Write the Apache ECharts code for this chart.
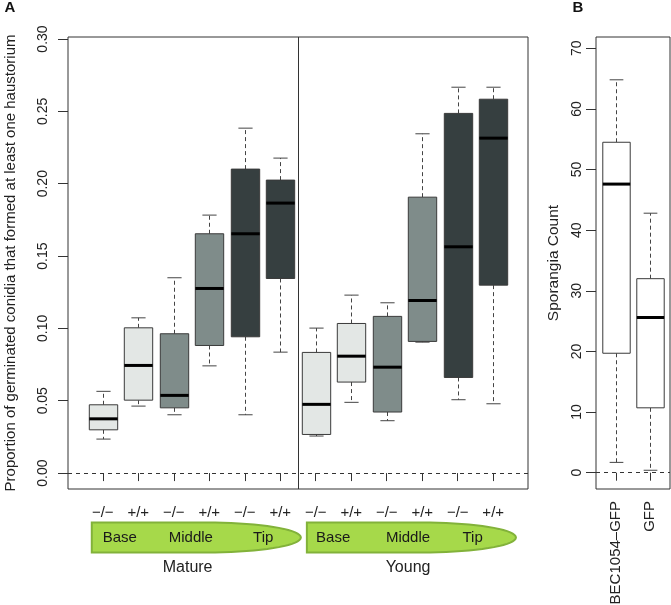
<!DOCTYPE html>
<html>
<head>
<meta charset="utf-8">
<script src="https://cdn.jsdelivr.net/npm/echarts@6/dist/echarts.min.js"></script>
<style>
  html, body { margin: 0; padding: 0; background: #fff; }
  #chart { width: 671px; height: 605px; }
</style>
</head>
<body>
<div id="chart"></div>
<script>
// panel A: one box per genotype, leaf region and leaf age
const genotypes = ['−/−', '+/+', '−/−', '+/+', '−/−', '+/+', '−/−', '+/+', '−/−', '+/+', '−/−', '+/+'];
const regions = ['Base', 'Base', 'Middle', 'Middle', 'Tip', 'Tip', 'Base', 'Base', 'Middle', 'Middle', 'Tip', 'Tip'];
const ages = ['Mature', 'Young'];
const lowerA = [0.0235, 0.0463, 0.0403, 0.0741, 0.0403, 0.0836, 0.0256, 0.0489, 0.0362, 0.0905, 0.0507, 0.0479];
const q1A = [0.0299, 0.0504, 0.0451, 0.0882, 0.0942, 0.1345, 0.0267, 0.0629, 0.0422, 0.0910, 0.0661, 0.1299];
const medianA = [0.0375, 0.0744, 0.0537, 0.1276, 0.1654, 0.1866, 0.0475, 0.0808, 0.0732, 0.1193, 0.1564, 0.2315];
const q3A = [0.0472, 0.1004, 0.0963, 0.1654, 0.2101, 0.2025, 0.0834, 0.1034, 0.1083, 0.1907, 0.2486, 0.2584];
const upperA = [0.0565, 0.1073, 0.1350, 0.1783, 0.2384, 0.2177, 0.1002, 0.1230, 0.1177, 0.2345, 0.2667, 0.2667];
const ticksA = [0, 0.05, 0.10, 0.15, 0.20, 0.25, 0.30];

// panel B: sporangia counts
const strains = ['BEC1054–GFP', 'GFP'];
const lowerB = [1.7, 0.4];
const q1B = [19.7, 10.7];
const medianB = [47.6, 25.6];
const q3B = [54.5, 32.0];
const upperB = [64.8, 42.8];
const ticksB = [0, 10, 20, 30, 40, 50, 60, 70];

const regionFill = { Base: '#e3e7e5', Middle: '#7f8c8a', Tip: '#363f40' };
const font = 'Liberation Sans, Arial, sans-serif';
const ink = '#333';

const posA = genotypes.map((g, i) => i + 1);
const posB = strains.map((s, i) => i + 1);
const dataA = posA.map((p, i) => [p, lowerA[i], q1A[i], medianA[i], q3A[i], upperA[i]]);
const dataB = posB.map((p, i) => [p, lowerB[i], q1B[i], medianB[i], q3B[i], upperB[i]]);

// R-style box: dashed whiskers, short staples, thick median
function boxRenderer(fills) {
  return function (params, api) {
    const x = api.value(0);
    const lo = api.coord([x, api.value(1)]);
    const q1 = api.coord([x, api.value(2)]);
    const med = api.coord([x, api.value(3)]);
    const q3 = api.coord([x, api.value(4)]);
    const hi = api.coord([x, api.value(5)]);
    const half = api.size([0.8, 0])[0] / 2;
    const cap = api.size([0.4, 0])[0] / 2;
    const cx = Math.round(q1[0]) + 0.5;
    const dash = { stroke: '#444', lineWidth: 1, lineDash: [4, 3] };
    const solid = { stroke: '#444', lineWidth: 1 };
    return {
      type: 'group',
      children: [
        { type: 'line', shape: { x1: cx, y1: q3[1], x2: cx, y2: hi[1] }, style: dash },
        { type: 'line', shape: { x1: cx, y1: q1[1], x2: cx, y2: lo[1] }, style: dash },
        { type: 'line', shape: { x1: cx - cap, y1: hi[1], x2: cx + cap, y2: hi[1] }, style: solid },
        { type: 'line', shape: { x1: cx - cap, y1: lo[1], x2: cx + cap, y2: lo[1] }, style: solid },
        {
          type: 'rect',
          shape: { x: cx - half, y: q3[1], width: half * 2, height: q1[1] - q3[1] },
          style: { fill: fills[params.dataIndex], stroke: '#3a3a3a', lineWidth: 1 }
        },
        { type: 'line', shape: { x1: cx - half, y1: med[1], x2: cx + half, y2: med[1] }, style: { stroke: '#000', lineWidth: 3 } }
      ]
    };
  };
}

const tickStyle = { show: true, inside: false, length: 10, lineStyle: { color: ink } };
const gridBase = { top: 37, height: 452, show: true, borderColor: ink, borderWidth: 1, backgroundColor: '#fff', outerBoundsMode: 'none', containLabel: false };

const chart = echarts.init(document.getElementById('chart'));
chart.setOption({
  animation: false,
  textStyle: { fontFamily: font },
  grid: [
    Object.assign({ left: 68, width: 460 }, gridBase),
    Object.assign({ left: 596, width: 74 }, gridBase)
  ],
  xAxis: [
    {
      gridIndex: 0, type: 'value', min: 0.02, max: 12.98,
      axisLine: { show: false }, splitLine: { show: false },
      axisTick: Object.assign({ customValues: posA }, tickStyle, { length: 8 }),
      axisLabel: {
        customValues: posA, margin: 16, fontSize: 15, color: '#222',
        formatter: v => genotypes[Math.round(v) - 1]
      }
    },
    {
      gridIndex: 1, type: 'value', min: 0.42, max: 2.58,
      axisLine: { show: false }, splitLine: { show: false },
      axisTick: Object.assign({ customValues: posB }, tickStyle, { length: 8 }),
      axisLabel: {
        customValues: posB, margin: 12, fontSize: 15, color: '#222', rotate: 90,
        formatter: v => strains[Math.round(v) - 1]
      }
    }
  ],
  yAxis: [
    {
      gridIndex: 0, type: 'value', min: -0.011, max: 0.3014,
      axisLine: { show: false }, splitLine: { show: false },
      axisTick: Object.assign({ customValues: ticksA }, tickStyle),
      axisLabel: {
        customValues: ticksA, rotate: 90, margin: 18, fontSize: 14, color: '#222',
        formatter: v => v.toFixed(2)
      },
      name: 'Proportion of germinated conidia that formed at least one haustorium',
      nameLocation: 'middle', nameRotate: 90, nameGap: 50,
      nameTextStyle: { fontSize: 15, color: '#222' }
    },
    {
      gridIndex: 1, type: 'value', min: -2.69, max: 71.86,
      axisLine: { show: false }, splitLine: { show: false },
      axisTick: Object.assign({ customValues: ticksB }, tickStyle),
      axisLabel: {
        customValues: ticksB, rotate: 90, margin: 12, fontSize: 14, color: '#222',
        formatter: v => String(v)
      },
      name: 'Sporangia Count',
      nameLocation: 'middle', nameRotate: 90, nameGap: 34,
      nameTextStyle: { fontSize: 15.5, color: '#222' }
    }
  ],
  series: [
    {
      type: 'custom', xAxisIndex: 0, yAxisIndex: 0,
      renderItem: boxRenderer(regions.map(r => regionFill[r])),
      encode: { x: 0, y: [1, 2, 3, 4, 5] },
      data: dataA,
      markLine: {
        silent: true, symbol: ['none', 'none'], label: { show: false },
        lineStyle: { color: ink, width: 1, type: [4, 4] },
        data: [
          { yAxis: 0 },
          { xAxis: 6.5, lineStyle: { type: 'solid', color: ink } }
        ]
      }
    },
    {
      type: 'custom', xAxisIndex: 1, yAxisIndex: 1,
      renderItem: boxRenderer(strains.map(() => '#fff')),
      encode: { x: 0, y: [1, 2, 3, 4, 5] },
      data: dataB,
      markLine: {
        silent: true, symbol: ['none', 'none'], label: { show: false },
        lineStyle: { color: ink, width: 1, type: [4, 4] },
        data: [{ yAxis: 0 }]
      }
    }
  ]
});

// leaf drawings under panel A, placed in x-axis units
const leafSpans = [[0.69, 6.58], [6.75, 12.64]];
const regionLabelPos = [[1.48, 3.48, 5.52], [7.49, 9.6, 11.42]];
const ageLabelPos = [3.39, 9.6];
const px = v => chart.convertToPixel({ xAxisIndex: 0 }, v);

const leafTop = 522.5, leafBottom = 552.5, leafMid = 537.5;
const graphics = [];
leafSpans.forEach((span, k) => {
  const L = px(span[0]), R = px(span[1]);
  const rx = 94, ry = leafMid - leafTop;
  const S = R - rx;
  // straight body, half-ellipse tip
  const pts = [[L, leafTop], [S, leafTop]];
  for (let a = -90; a <= 90; a += 5) {
    const t = a * Math.PI / 180;
    pts.push([S + rx * Math.cos(t), leafMid + ry * Math.sin(t)]);
  }
  pts.push([L, leafBottom]);
  graphics.push({
    type: 'polygon', shape: { points: pts },
    style: { fill: '#a6d94a', stroke: '#82b23a', lineWidth: 2 }
  });
  ['Base', 'Middle', 'Tip'].forEach((name, j) => {
    graphics.push({
      type: 'text', x: px(regionLabelPos[k][j]), y: leafMid,
      style: { text: name, font: `15px ${font}`, fill: '#1a1a1a', align: 'center', verticalAlign: 'middle' }
    });
  });
  graphics.push({
    type: 'text', x: px(ageLabelPos[k]), y: 568,
    style: { text: ages[k], font: `16px ${font}`, fill: '#222', align: 'center', verticalAlign: 'middle' }
  });
});
// panel letters
graphics.push({
  type: 'text', x: 10, y: 8,
  style: { text: 'A', font: `bold 15px ${font}`, fill: '#111', align: 'center', verticalAlign: 'middle' }
});
graphics.push({
  type: 'text', x: 578, y: 8,
  style: { text: 'B', font: `bold 15px ${font}`, fill: '#111', align: 'center', verticalAlign: 'middle' }
});
chart.setOption({ graphic: graphics });
</script>
</body>
</html>
